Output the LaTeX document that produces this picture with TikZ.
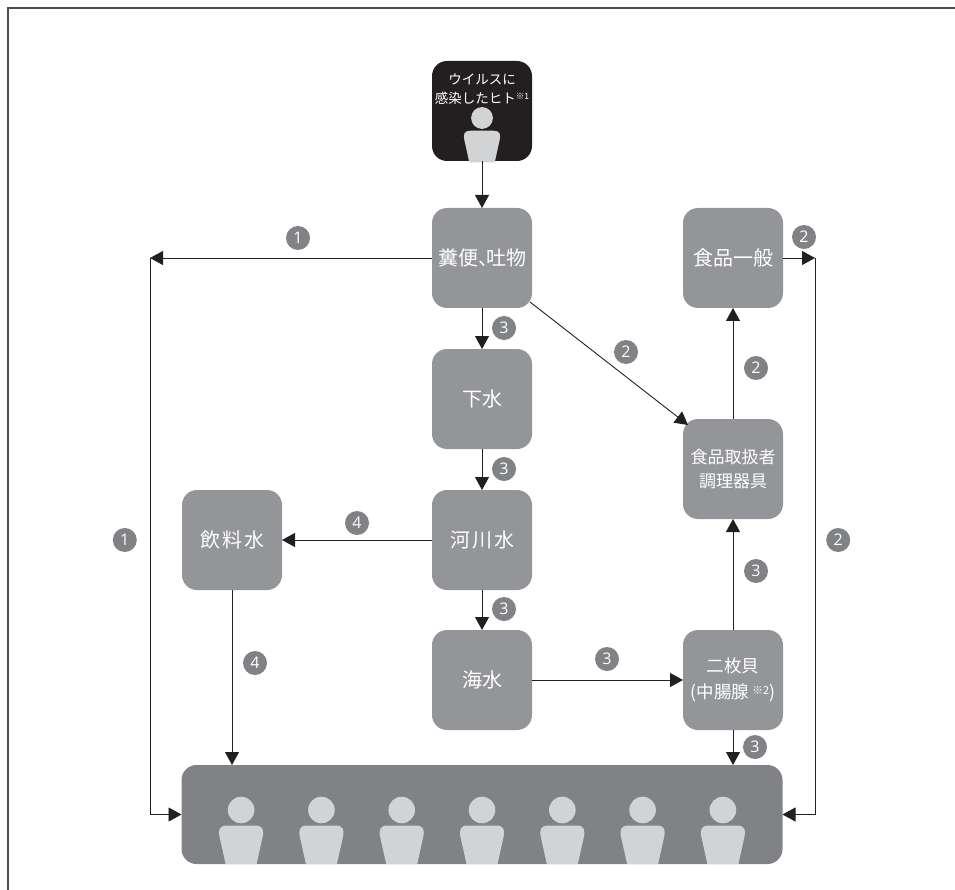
\documentclass[tikz,border=0pt]{standalone}
\usepackage{fontspec}
\setmainfont{Noto Sans CJK JP}
\newfontfamily\digitfont{Open Sans}
\usetikzlibrary{arrows.meta,positioning}
\definecolor{ink}{HTML}{231F20}
\definecolor{step}{HTML}{939598}
\definecolor{crowdgrey}{HTML}{808285}
\definecolor{figure}{HTML}{D1D3D4}
\newcommand{\notemark}[2][8.5]{\raisebox{4pt}{\fontsize{#1}{9}\selectfont ※#2}}
\tikzset{
  >={Triangle[length=13pt,width=14pt]},
  box/.style={fill=step,rounded corners=15pt,minimum width=100pt,minimum height=100pt,outer sep=0pt,inner sep=0pt,align=center,text=white,font=\fontsize{20}{24}\selectfont},
  sourcebox/.style={box,fill=ink},
  crowdbox/.style={box,fill=crowdgrey,minimum width=601pt,minimum height=99pt},
  sourcetext/.style={text=white,align=center,inner sep=0pt,font=\fontsize{13.5}{19}\selectfont},
  arrow/.style={->,line width=.9pt,draw=ink},
  frameline/.style={line width=1.4pt,draw=ink!80},
  badge/.style={circle,fill=crowdgrey,text=white,minimum size=24pt,inner sep=0pt,font=\digitfont\fontsize{16}{16}\selectfont},
  person/.pic={
    \fill[figure] (0,0) circle (13.3);
    \fill[figure] (-15.5,-54) -- (-21.5,-27) .. controls (-23,-20) and (-22,-15.5) .. (-14,-15.5) -- (14,-15.5) .. controls (22,-15.5) and (23,-20) .. (21.5,-27) -- (15.5,-54) -- cycle;
  },
}
\begin{document}
\begin{tikzpicture}[x=1pt,y=1pt]
\useasboundingbox (0,0) rectangle (955,-890);
\draw[frameline] (955,-8) -- (8,-8) -- (8,-890);

\node[sourcebox] (infected) at (482,-111) {};
\node[sourcetext,below=12pt of infected.north] (infectedtext) {ウイルスに\\感染したヒト\notemark{1}};
\pic[scale=.82] at ([yshift=-7pt]infected.center) {person};

\node[box,below=47pt of infected] (feces) {糞便、\hspace{-12pt}吐物};
\node[box,below=41pt of feces] (sewage) {下水};
\node[box,below=41pt of sewage] (river) {河\hspace{2pt}川\hspace{2pt}水};
\node[box,below=40pt of river] (sea) {海水};
\node[box,left=150pt of river] (water) {飲\hspace{2pt}料\hspace{2pt}水};
\node[box,right=151pt of sea,font=\fontsize{17.5}{26}\selectfont] (shellfish) {二枚貝\\(中腸腺\,\notemark[11]{2})};
\node[box,above=111pt of shellfish,font=\fontsize{17}{24.5}\selectfont] (handler) {食品取扱者\\調理器具};
\node[box,above=111pt of handler] (food) {食品一般};
\node[crowdbox,below=35pt of sea] (crowd) {};
\foreach \i in {-3,...,3}
  \pic at ([xshift=\i*80.3pt,yshift=4.5pt]crowd.center) {person};

\coordinate[left=282pt of feces] (leftturn);
\coordinate[right=32pt of food] (rightturn);

\draw[arrow] (infected) -- (feces);
\draw[arrow] (feces) -- (sewage);
\draw[arrow] (sewage) -- (river);
\draw[arrow] (river) -- (sea);
\draw[arrow] (river) -- (water);
\draw[arrow] (sea) -- (shellfish);
\draw[arrow] (shellfish) -- (handler);
\draw[arrow] (handler) -- (food);
\draw[arrow] ([shift={(-2,6)}]feces.south east) -- ([shift={(5,-6)}]handler.north west);
\draw[arrow] (water.south) -- (water.south |- crowd.north);
\draw[arrow] (shellfish) -- (shellfish.south |- crowd.north);
\draw[arrow] (feces) -- (leftturn);
\draw[arrow] (food) -- (rightturn);
\draw[arrow] (leftturn) |- (crowd.west);
\draw[arrow] (rightturn) |- (crowd.east);

\node[badge,xshift=-184pt,yshift=20pt] (badgea) at (feces.center) {1};
\node[badge,left=13pt of leftturn |- water] (badgeb) {1};
\node[badge,xshift=22pt,yshift=-20pt] (badgec) at (feces.south) {3};
\node[badge,xshift=22pt,yshift=-20pt] (badged) at (sewage.south) {3};
\node[badge,xshift=22pt,yshift=-19pt] (badgee) at (river.south) {3};
\node[badge,xshift=22pt,yshift=-17pt] (badgef) at (shellfish.south) {3};
\node[badge,xshift=-125pt,yshift=17pt] (badgeg) at (river.center) {4};
\node[badge,xshift=23pt,yshift=-73pt] (badgeh) at (water.south) {4};
\node[badge,xshift=125pt,yshift=21pt] (badgei) at (sea.center) {3};
\node[badge,xshift=144pt,yshift=-94pt] (badgej) at (feces.center) {2};
\node[badge,xshift=23pt,yshift=-60pt] (badgek) at (food.south) {2};
\node[badge,xshift=23pt,yshift=-52pt] (badgel) at (handler.south) {3};
\node[badge,xshift=21pt,yshift=21pt] (badgem) at (food.east) {2};
\node[badge,right=11pt of rightturn |- water] (badgen) {2};
\end{tikzpicture}
\end{document}
